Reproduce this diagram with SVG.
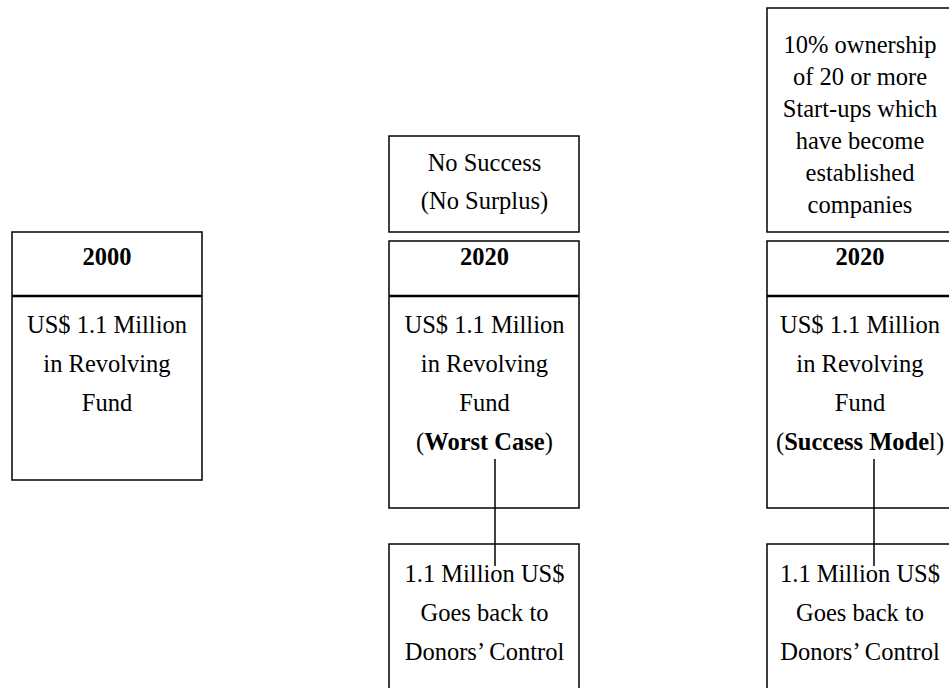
<svg xmlns="http://www.w3.org/2000/svg" width="949" height="688" viewBox="0 0 949 688">
<style>
.box{fill:#fff;stroke:#000;stroke-width:1.5}
.div{stroke:#000;stroke-width:2.5}
.thin{stroke:#000;stroke-width:1.5}
.t{font-family:"Liberation Serif","Times New Roman",serif;font-size:24.5px;fill:#000;text-anchor:middle}
.b{font-weight:bold}
</style>
<rect width="949" height="688" fill="#fff"/>
<g id="box2000">
<rect class="box" x="12" y="232" width="190" height="248"/>
<line class="div" x1="12" y1="296" x2="202" y2="296"/>
<text class="t b" x="107" y="265">2000</text>
<text class="t" x="107" y="333">US$ 1.1 Million</text>
<text class="t" x="107" y="372">in Revolving</text>
<text class="t" x="107" y="411">Fund</text>
</g>
<g id="noSuccess">
<rect class="box" x="389" y="136" width="190" height="96"/>
<text class="t" x="484.5" y="171">No Success</text>
<text class="t" x="484.5" y="209">(No Surplus)</text>
</g>
<g id="worstCase">
<rect class="box" x="389" y="241" width="190" height="267"/>
<line class="div" x1="389" y1="296" x2="579" y2="296"/>
<text class="t b" x="484.5" y="265">2020</text>
<text class="t" x="484.5" y="333">US$ 1.1 Million</text>
<text class="t" x="484.5" y="372">in Revolving</text>
<text class="t" x="484.5" y="411">Fund</text>
<text class="t" x="484.5" y="450">(<tspan class="b">Worst Case</tspan>)</text>
</g>
<g id="donors1">
<rect class="box" x="389" y="544" width="190" height="160"/>
<text class="t" x="484.5" y="582">1.1 Million US$</text>
<text class="t" x="484.5" y="621">Goes back to</text>
<text class="t" x="484.5" y="660">Donors’ Control</text>
</g>
<g id="ownership">
<rect class="box" x="767" y="8" width="192" height="224"/>
<text class="t" x="860" y="53">10% ownership</text>
<text class="t" x="860" y="85">of 20 or more</text>
<text class="t" x="860" y="117">Start-ups which</text>
<text class="t" x="860" y="149">have become</text>
<text class="t" x="860" y="181">established</text>
<text class="t" x="860" y="213">companies</text>
</g>
<g id="successModel">
<rect class="box" x="767" y="241" width="192" height="267"/>
<line class="div" x1="767" y1="296" x2="959" y2="296"/>
<text class="t b" x="860" y="265">2020</text>
<text class="t" x="860" y="333">US$ 1.1 Million</text>
<text class="t" x="860" y="372">in Revolving</text>
<text class="t" x="860" y="411">Fund</text>
<text class="t" x="860" y="450">(<tspan class="b">Success Mode</tspan>l)</text>
</g>
<g id="donors2">
<rect class="box" x="767" y="544" width="192" height="160"/>
<text class="t" x="860" y="582">1.1 Million US$</text>
<text class="t" x="860" y="621">Goes back to</text>
<text class="t" x="860" y="660">Donors’ Control</text>
</g>
<g id="connectors">
<line class="thin" x1="495" y1="459" x2="495" y2="566"/>
<line class="thin" x1="874" y1="459" x2="874" y2="566"/>
</g>
</svg>
